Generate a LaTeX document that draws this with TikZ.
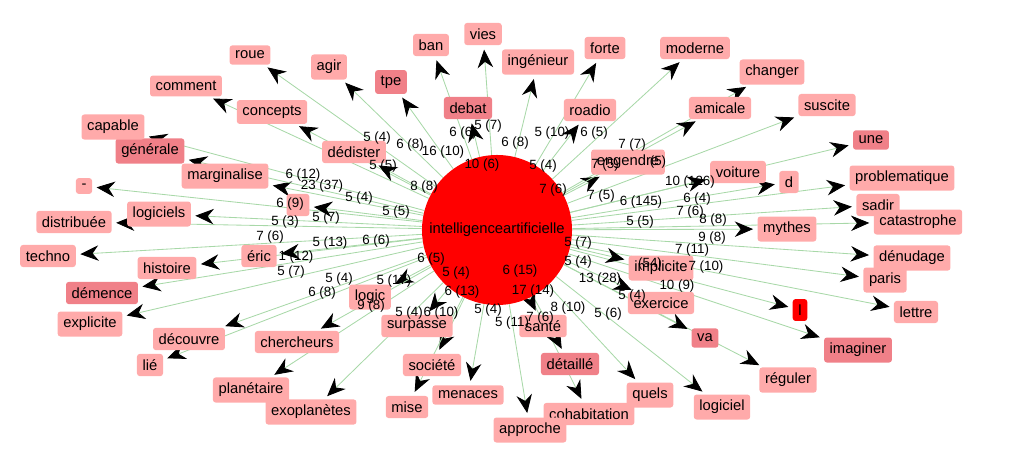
\documentclass[tikz,border=0pt]{standalone}
\usepackage{fontspec}
\setmainfont{Liberation Sans}
\usetikzlibrary{arrows.meta,backgrounds}
\definecolor{wordpink}{HTML}{FFAAAA}
\definecolor{worddark}{HTML}{F08088}
\definecolor{edgegreen}{HTML}{A8D8A8}
\tikzset{
  word/.style={fill=wordpink, rounded corners=2pt, inner sep=4pt, font=\fontsize{10.5}{12}\selectfont},
  darkword/.style={word, fill=worddark},
  redword/.style={word, fill=red},
  edge/.style={draw=edgegreen, line width=0.6pt, shorten >=3pt, -{Stealth[length=13pt,width=11pt,black]}},
  elabel/.style={font=\fontsize{9.5}{10}\selectfont, inner sep=0pt}
}
\begin{document}
\begin{tikzpicture}[x=0.025cm, y=-0.025cm]
\useasboundingbox (0,0) rectangle (1012,462);

% hub
\node[circle, fill=red, minimum size=3.75cm, inner sep=0pt] (c) at (497,230) {};
\node[font=\fontsize{10.5}{12}\selectfont] (clabel) at (497,230) {intelligenceartificielle};

% words
\foreach \n/\x/\y/\t/\s in {
  roue/250/55/roue/word, agir/329/67/agir/word, tpe/391/82/tpe/darkword,
  ban/431/45/ban/word, vies/483/34/vies/word, ingenieur/538/62/ingénieur/word,
  forte/605/48/forte/word, moderne/695/48/moderne/word, changer/772/72/changer/word,
  suscite/827/105/suscite/word, une/871/140/une/darkword, problematique/902/178/problematique/word,
  sadir/878/205/sadir/word, catastrophe/918/222/catastrophe/word, denudage/912/258/dénudage/word,
  paris/885/280/paris/word, lettre/916/312/lettre/word, l/800/310/l/redword,
  imaginer/858/350/imaginer/darkword, reguler/788/380/réguler/word, logiciel/722/407/logiciel/word,
  quels/650/395/quels/word, va/705/338/va/darkword, exercice/661/303/exercice/word,
  implicite/661/268/implicite/word, cohabitation/589/414/cohabitation/word, detaille/570/364/détaillé/darkword,
  sante/543/326/santé/word, approche/530/430/approche/word, menaces/468/395/menaces/word,
  societe/432/365/société/word, mise/407/407/mise/word, surpasse/417/326/surpasse/word,
  logic/370/297/logic/word, chercheurs/297/342/chercheurs/word, planetaire/251/390/planétaire/word,
  exoplanetes/311/412/exoplanètes/word, decouvre/189/339/découvre/word, lie/150/365/lié/word,
  explicite/90/324/explicite/word, demence/102/293/démence/darkword, histoire/167/268/histoire/word,
  eric/259/256/éric/word, techno/48/256/techno/word, distribuee/74/222/distribuée/word,
  logiciels/159/214/logiciels/word, tiret/84/186/-/word, marginalise/225/176/marginalise/word,
  generale/150/151/générale/darkword, capable/113/127/capable/word, comment/186/86/comment/word,
  concepts/272/112/concepts/word, dedister/354/152/dédister/word, debat/468/108/debat/darkword,
  roadio/590/110/roadio/word, engendre/628/162/engendre/word, amicale/720/108/amicale/word,
  voiture/738/172/voiture/word, d/789/182/d/word, mythes/787/229/mythes/word, petit/298/205/{\phantom{ia}}/word}
  \node[\s] (\n) at (\x,\y) {\t};

% links
\begin{scope}[on background layer]
  \foreach \n in {roue,agir,tpe,ban,vies,ingenieur,forte,moderne,changer,suscite,une,
    problematique,sadir,catastrophe,denudage,paris,lettre,l,imaginer,reguler,logiciel,
    quels,va,exercice,implicite,cohabitation,detaille,sante,approche,menaces,societe,
    mise,surpasse,logic,chercheurs,planetaire,exoplanetes,decouvre,lie,explicite,demence,
    histoire,eric,techno,distribuee,logiciels,tiret,marginalise,generale,capable,comment,
    concepts,dedister,debat,roadio,engendre,amicale,voiture,d,mythes,petit}
    \draw[edge] (c) -- (\n);
\end{scope}

% counts
\foreach \x/\y/\t in {
  377/138/5 (4), 410/145/6 (8), 443/152/16 (10), 463/133/6 (6), 488/126/5 (7), 515/143/6 (8),
  482/165/10 (6), 424/187/8 (8), 383/166/5 (5), 303/175/6 (12), 322/186/23 (37), 359/198/5 (4),
  396/212/5 (5), 290/204/6 (9), 326/218/5 (7), 285/222/5 (3), 552/133/5 (10), 594/133/6 (5),
  543/166/5 (4), 632/145/7 (7), 605/165/7 (5), 658/162/(5), 553/190/7 (6), 601/196/7 (5),
  690/182/10 (126), 641/202/6 (145), 697/199/6 (4), 690/212/7 (6), 640/222/5 (5), 713/220/8 (8),
  712/238/9 (8), 270/237/7 (6), 330/243/5 (13), 376/241/6 (6), 296/257/1 (12), 291/272/5 (7),
  431/259/6 (5), 456/273/5 (4), 520/271/6 (15), 339/279/5 (4), 394/281/5 (17), 322/293/6 (8),
  371/306/9 (8), 462/292/6 (13), 409/313/5 (4), 441/313/6 (10), 488/310/5 (4), 512/323/5 (11),
  533/291/17 (14), 540/318/7 (6), 568/308/8 (10), 608/314/5 (6), 578/243/5 (7), 578/262/5 (4),
  600/279/13 (28), 632/296/5 (4), 692/250/7 (11), 706/267/7 (10), 677/286/10 (9), 650/264/(54)}
  \node[elabel] at (\x,\y) {\t};
\end{tikzpicture}
\end{document}
